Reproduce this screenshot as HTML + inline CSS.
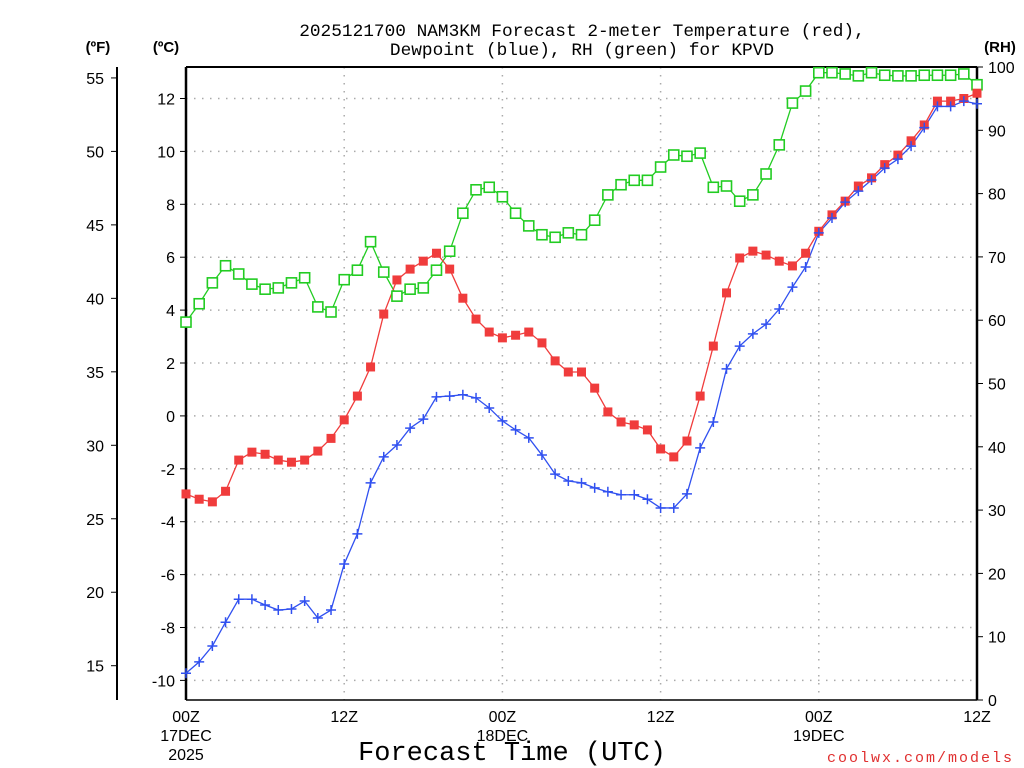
<!DOCTYPE html>
<html><head><meta charset="utf-8"><style>
body{margin:0;background:#fff;}
svg{display:block;font-family:"Liberation Sans",sans-serif;}
</style></head><body>
<svg id="chart" width="1024" height="768">
<text x="582" y="36" font-size="17.8" font-family="Liberation Mono, monospace" text-anchor="middle">2025121700 NAM3KM Forecast 2-meter Temperature (red),</text>
<text x="582" y="55" font-size="17.8" font-family="Liberation Mono, monospace" text-anchor="middle">Dewpoint (blue), RH (green) for KPVD</text>
<text x="98" y="52" font-size="15" font-weight="bold" text-anchor="middle">(ºF)</text>
<text x="166" y="52" font-size="15" font-weight="bold" text-anchor="middle">(ºC)</text>
<text x="1000" y="52" font-size="15" font-weight="bold" text-anchor="middle">(RH)</text>
<text x="512" y="760" font-size="27" font-family="Liberation Mono, monospace" text-anchor="middle">Forecast Time (UTC)</text>
<text x="1014" y="762" font-size="15" font-family="Liberation Mono, monospace" fill="#e03030" text-anchor="end" letter-spacing="2">coolwx.com/models</text>
<g id="grid"></g><g id="axes"></g><g id="series"></g>
</svg>
<script>
const hours=[];for(let i=0;i<=60;i++)hours.push(i);
const tempC=[-2.95,-3.15,-3.25,-2.85,-1.67,-1.37,-1.45,-1.67,-1.75,-1.67,-1.33,-0.85,-0.15,0.75,1.85,3.85,5.14,5.55,5.85,6.15,5.55,4.45,3.66,3.17,2.95,3.05,3.17,2.76,2.08,1.66,1.66,1.05,0.15,-0.23,-0.34,-0.53,-1.25,-1.55,-0.95,0.75,2.64,4.65,5.97,6.23,6.08,5.85,5.67,6.15,6.98,7.6,8.12,8.69,9.0,9.5,9.86,10.4,11.0,11.9,11.9,12.0,12.2];
const dewC=[-9.73,-9.3,-8.7,-7.8,-6.93,-6.93,-7.15,-7.34,-7.3,-7.0,-7.64,-7.34,-5.6,-4.46,-2.53,-1.55,-1.1,-0.46,-0.12,0.72,0.75,0.8,0.68,0.3,-0.19,-0.53,-0.83,-1.48,-2.2,-2.46,-2.53,-2.72,-2.87,-2.98,-2.98,-3.15,-3.48,-3.48,-2.95,-1.21,-0.23,1.78,2.64,3.1,3.47,4.04,4.87,5.63,6.92,7.48,8.08,8.5,8.92,9.37,9.71,10.2,10.9,11.7,11.7,11.9,11.8];
const rh=[59.7,62.6,65.9,68.6,67.3,65.7,64.9,65.1,65.9,66.7,62.1,61.3,66.4,67.9,72.4,67.6,63.8,64.9,65.1,67.9,70.9,76.9,80.6,81.0,79.5,76.9,74.9,73.5,73.1,73.8,73.5,75.8,79.8,81.4,82.1,82.1,84.2,86.1,85.9,86.4,81.0,81.2,78.8,79.8,83.1,87.7,94.3,96.2,99.1,99.1,98.9,98.6,99.1,98.7,98.6,98.6,98.7,98.7,98.7,98.9,97.2];
const cTicks=[12,10,8,6,4,2,0,-2,-4,-6,-8,-10];
const fTicks=[55,50,45,40,35,30,25,20,15];
const rhTicks=[100,90,80,70,60,50,40,30,20,10,0];
const xTickHours=[0,12,24,36,48,60];
const xTickLabels=[["00Z","17DEC","2025"],["12Z"],["00Z","18DEC"],["12Z"],["00Z","19DEC"],["12Z"]];
const L=186,R=977,T=67,B=700;
const xS=h=>L+(R-L)*h/60;
const yC=c=>415.9-26.45*c;
const yF=f=>yC((f-32)/1.8);
const yRH=v=>B-(B-T)*v/100;
const NS="http://www.w3.org/2000/svg";
function mk(tag,attrs,parent,text){const e=document.createElementNS(NS,tag);for(const k in attrs)e.setAttribute(k,attrs[k]);if(text!==undefined)e.textContent=text;parent.appendChild(e);return e;}
const grid=document.getElementById('grid'),axes=document.getElementById('axes'),series=document.getElementById('series');
cTicks.forEach(c=>{const g=mk('line',{x1:L,x2:R,y1:yC(c),y2:yC(c),stroke:'#aaa','stroke-width':1.5,'stroke-dasharray':'1.5 6.5'},grid);


mk('line',{x1:L-6,x2:L,y1:yC(c),y2:yC(c),stroke:'#000'},axes);
const t=mk('text',{x:L-11,y:yC(c)+6,'font-size':16,'text-anchor':'end'},axes,String(c));

});
[12,24,36,48].forEach(h=>{const g=mk('line',{x1:xS(h),x2:xS(h),y1:T,y2:B,stroke:'#aaa','stroke-width':1.5,'stroke-dasharray':'1.5 6.5'},grid);

});
mk('line',{x1:117,x2:117,y1:T,y2:B,stroke:'#000','stroke-width':2},axes);
fTicks.forEach(f=>{mk('line',{x1:111,x2:117,y1:yF(f),y2:yF(f),stroke:'#000'},axes);
const t=mk('text',{x:104,y:yF(f)+6,'font-size':16,'text-anchor':'end'},axes,String(f));

});
rhTicks.forEach(v=>{mk('line',{x1:R,x2:R+6,y1:yRH(v),y2:yRH(v),stroke:'#000'},axes);
const t=mk('text',{x:R+11,y:yRH(v)+6,'font-size':16},axes,String(v));

});
mk('line',{x1:L,x2:R,y1:T,y2:T,stroke:'#000','stroke-width':2},axes);
mk('line',{x1:L,x2:R,y1:B,y2:B,stroke:'#000','stroke-width':1.5},axes);
mk('line',{x1:L,x2:L,y1:T,y2:B,stroke:'#000','stroke-width':2.5},axes);
mk('line',{x1:R,x2:R,y1:T,y2:B,stroke:'#000','stroke-width':2.5},axes);
xTickHours.forEach((h,i)=>{xTickLabels[i].forEach((s,j)=>{const t=mk('text',{x:xS(h),y:722+j*19,'font-size':16,'text-anchor':'middle'},axes,s);

});});
function line(vals,yf,color,name){const pts=vals.map((v,i)=>xS(hours[i])+','+yf(v)).join(' ');
const p=mk('polyline',{points:pts,fill:'none',stroke:color,'stroke-width':1.3},series);

}
line(rh,yRH,'#22cc22','rh');
line(tempC,yC,'#f03c3c','temperature');
line(dewC,yC,'#3050f0','dewpoint');
rh.forEach((v,i)=>{const m=mk('rect',{x:xS(hours[i])-5,y:yRH(v)-5,width:10,height:10,fill:'#fff',stroke:'#22cc22','stroke-width':1.6},series);

});
tempC.forEach((v,i)=>{const m=mk('rect',{x:xS(hours[i])-4.5,y:yC(v)-4.5,width:9,height:9,fill:'#f03c3c'},series);

});
dewC.forEach((v,i)=>{const x=xS(hours[i]),y=yC(v);const m=mk('path',{d:`M${x-5},${y}H${x+5}M${x},${y-5}V${y+5}`,stroke:'#3050f0','stroke-width':1.5},series);

});
</script>
</body></html>
